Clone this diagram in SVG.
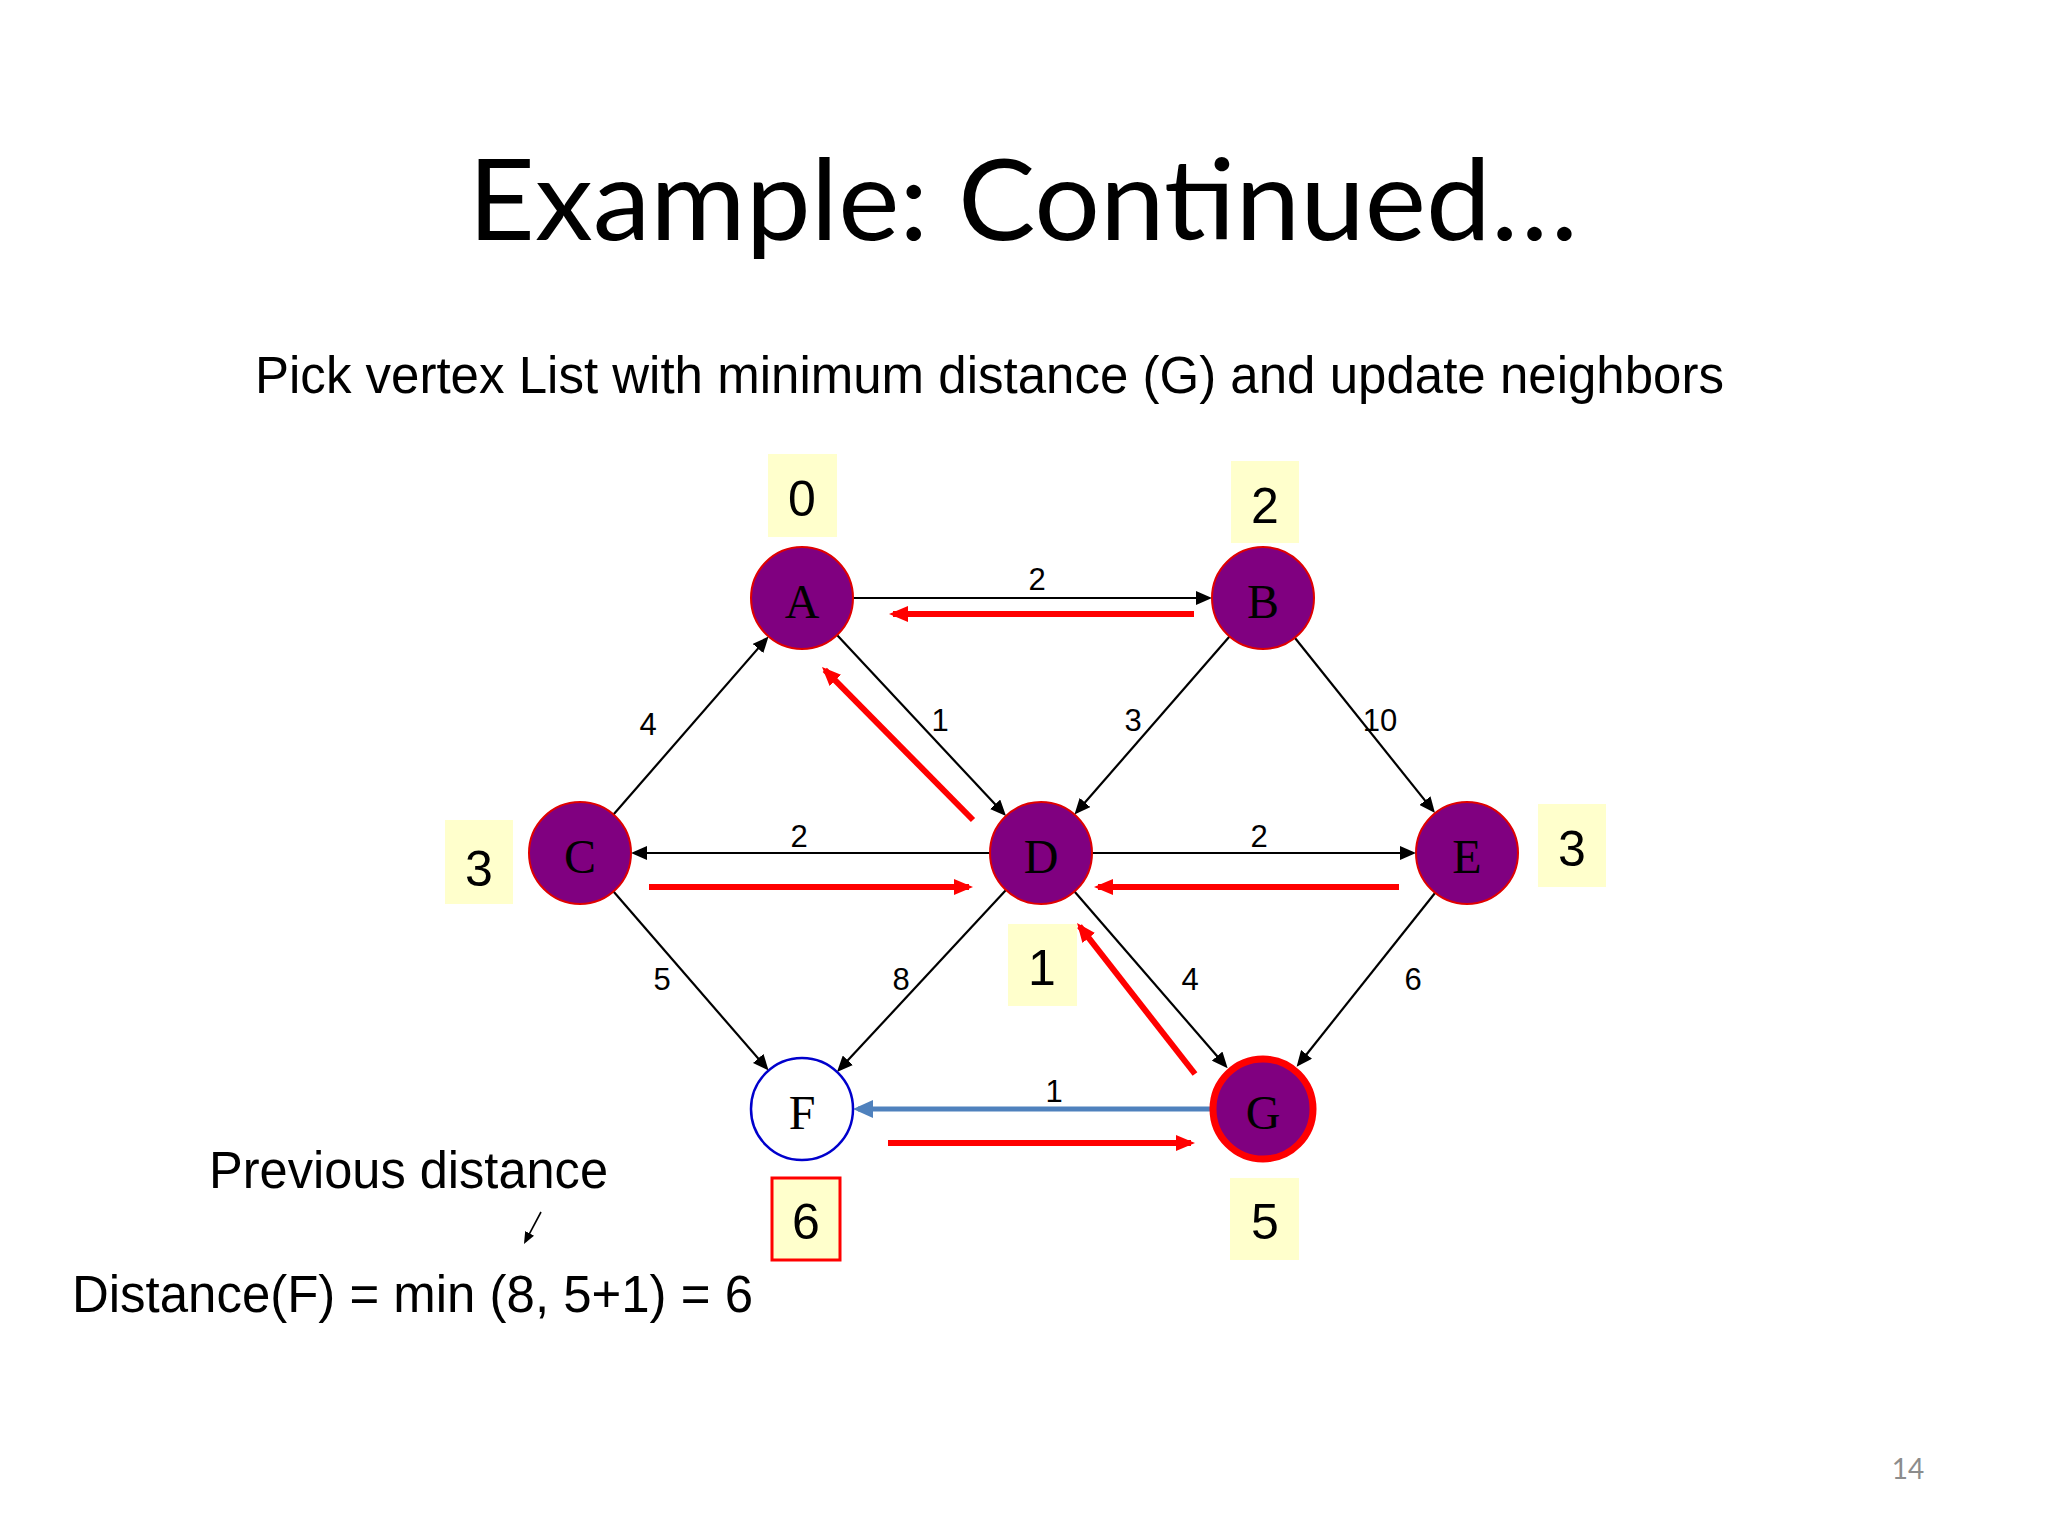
<svg xmlns="http://www.w3.org/2000/svg" width="2048" height="1536" viewBox="0 0 2048 1536">
<style>
.node{fill:#800080;stroke:#e00000;stroke-width:2}
.sel{stroke:#ff0000;stroke-width:7}
.nl{font-family:"Liberation Serif","Times New Roman",serif;font-size:48px;fill:#000;text-anchor:middle}
.box{fill:#FFFFCC}
.dn{font-family:"Liberation Sans",Arial,sans-serif;font-size:50px;fill:#000;text-anchor:middle}
.el{font-family:"Liberation Sans",Arial,sans-serif;font-size:31px;fill:#000;text-anchor:middle}
.blk{stroke:#000;stroke-width:2.2;fill:none;marker-end:url(#mb)}
.red{stroke:#ff0000;stroke-width:6;fill:none;marker-end:url(#mr)}
.txt{font-family:"Liberation Sans",Arial,sans-serif;font-size:51px;fill:#000}
</style>
<defs>
<marker id="mb" markerUnits="userSpaceOnUse" markerWidth="16" markerHeight="14" refX="12" refY="7" orient="auto"><path d="M0,0 L16,7 L0,14 z" fill="#000"/></marker>
<marker id="mr" markerUnits="userSpaceOnUse" markerWidth="19" markerHeight="16" refX="15" refY="8" orient="auto"><path d="M0,0 L19,8 L0,16 z" fill="#ff0000"/></marker>
<marker id="mbl" markerUnits="userSpaceOnUse" markerWidth="20" markerHeight="18" refX="15" refY="9" orient="auto"><path d="M0,0 L20,9 L0,18 z" fill="#4f81bd"/></marker>
<marker id="ms" markerUnits="userSpaceOnUse" markerWidth="12" markerHeight="10" refX="9" refY="5" orient="auto"><path d="M0,0 L12,5 L0,10 z" fill="#000"/></marker>
</defs>
<rect width="2048" height="1536" fill="#fff"/>
<text x="1023" y="240" font-family="Lato,'Open Sans',sans-serif" font-size="113" text-anchor="middle" textLength="1110" lengthAdjust="spacingAndGlyphs">Example: Continued…</text>
<text x="255" y="393" class="txt" textLength="1469" lengthAdjust="spacingAndGlyphs">Pick vertex List with minimum distance (G) and update neighbors</text>

<g id="connectors">
<line class="blk" x1="853" y1="598" x2="1208" y2="598"/>
<line class="blk" x1="613.5" y1="814.5" x2="765.9" y2="639.5"/>
<line class="blk" x1="837" y1="635" x2="1003.3" y2="813.1"/>
<line class="blk" x1="1229.5" y1="636.5" x2="1077.1" y2="811.5"/>
<line class="blk" x1="1295" y1="638" x2="1432.5" y2="809.9"/>
<line class="blk" x1="990" y1="853" x2="635" y2="853"/>
<line class="blk" x1="1092" y1="853" x2="1412" y2="853"/>
<line class="blk" x1="613.5" y1="891.5" x2="766" y2="1067.5"/>
<line class="blk" x1="1006" y1="890" x2="839.7" y2="1069.1"/>
<line class="blk" x1="1074.5" y1="891.5" x2="1225" y2="1065.2"/>
<line class="blk" x1="1435" y1="893" x2="1299.1" y2="1063.7"/>
<line x1="1210" y1="1109" x2="858" y2="1109" stroke="#4f81bd" stroke-width="5" marker-end="url(#mbl)"/>
<line class="red" x1="1194" y1="614" x2="893" y2="614"/>
<line class="red" x1="973" y1="820" x2="824.8" y2="669.8"/>
<line class="red" x1="649" y1="887" x2="969" y2="887"/>
<line class="red" x1="1399" y1="887" x2="1098" y2="887"/>
<line class="red" x1="1195" y1="1074" x2="1079.5" y2="926.2"/>
<line class="red" x1="888" y1="1143" x2="1191" y2="1143"/>
<line x1="541" y1="1212" x2="525.4" y2="1241.3" stroke="#000" stroke-width="1.6" marker-end="url(#ms)"/>
<text class="el" x="1037" y="590">2</text>
<text class="el" x="648" y="735">4</text>
<text class="el" x="940" y="731">1</text>
<text class="el" x="1133" y="731">3</text>
<text class="el" x="1380" y="731">10</text>
<text class="el" x="799" y="847">2</text>
<text class="el" x="1259" y="847">2</text>
<text class="el" x="662" y="990">5</text>
<text class="el" x="901" y="990">8</text>
<text class="el" x="1190" y="990">4</text>
<text class="el" x="1413" y="990">6</text>
<text class="el" x="1054" y="1102">1</text>
</g>

<g id="node-A"><circle class="node" cx="802" cy="598" r="51"/><text class="nl" x="802" y="618">A</text>
<rect class="box" x="768" y="454" width="69" height="83"/><text class="dn" x="802" y="516">0</text></g>
<g id="node-B"><circle class="node" cx="1263" cy="598" r="51"/><text class="nl" x="1263" y="618">B</text>
<rect class="box" x="1231" y="461" width="68" height="82"/><text class="dn" x="1265" y="523">2</text></g>
<g id="node-C"><circle class="node" cx="580" cy="853" r="51"/><text class="nl" x="580" y="873">C</text>
<rect class="box" x="445" y="820" width="68" height="84"/><text class="dn" x="479" y="886">3</text></g>
<g id="node-D"><circle class="node" cx="1041" cy="853" r="51"/><text class="nl" x="1041" y="873">D</text>
<rect class="box" x="1008" y="924" width="69" height="82"/><text class="dn" x="1042" y="985">1</text></g>
<g id="node-E"><circle class="node" cx="1467" cy="853" r="51"/><text class="nl" x="1467" y="873">E</text>
<rect class="box" x="1538" y="804" width="68" height="83"/><text class="dn" x="1572" y="866">3</text></g>
<g id="node-F"><circle cx="802" cy="1109" r="51" fill="#fff" stroke="#0000cc" stroke-width="2.5"/><text class="nl" x="802" y="1129">F</text>
<rect class="box" x="772" y="1178" width="68" height="82" stroke="#ff0000" stroke-width="3"/><text class="dn" x="806" y="1239">6</text></g>
<g id="node-G"><circle class="node sel" cx="1263" cy="1109" r="50"/><text class="nl" x="1263" y="1129">G</text>
<rect class="box" x="1230" y="1178" width="69" height="82"/><text class="dn" x="1265" y="1239">5</text></g>

<text x="209" y="1188" class="txt" textLength="399" lengthAdjust="spacingAndGlyphs">Previous distance</text>
<text x="72" y="1312" class="txt" textLength="681" lengthAdjust="spacingAndGlyphs">Distance(F) = min (8, 5+1) = 6</text>
<text x="1908" y="1479" font-family="Lato,'Open Sans',sans-serif" font-size="28" fill="#8c8c8c" text-anchor="middle">14</text>
</svg>
